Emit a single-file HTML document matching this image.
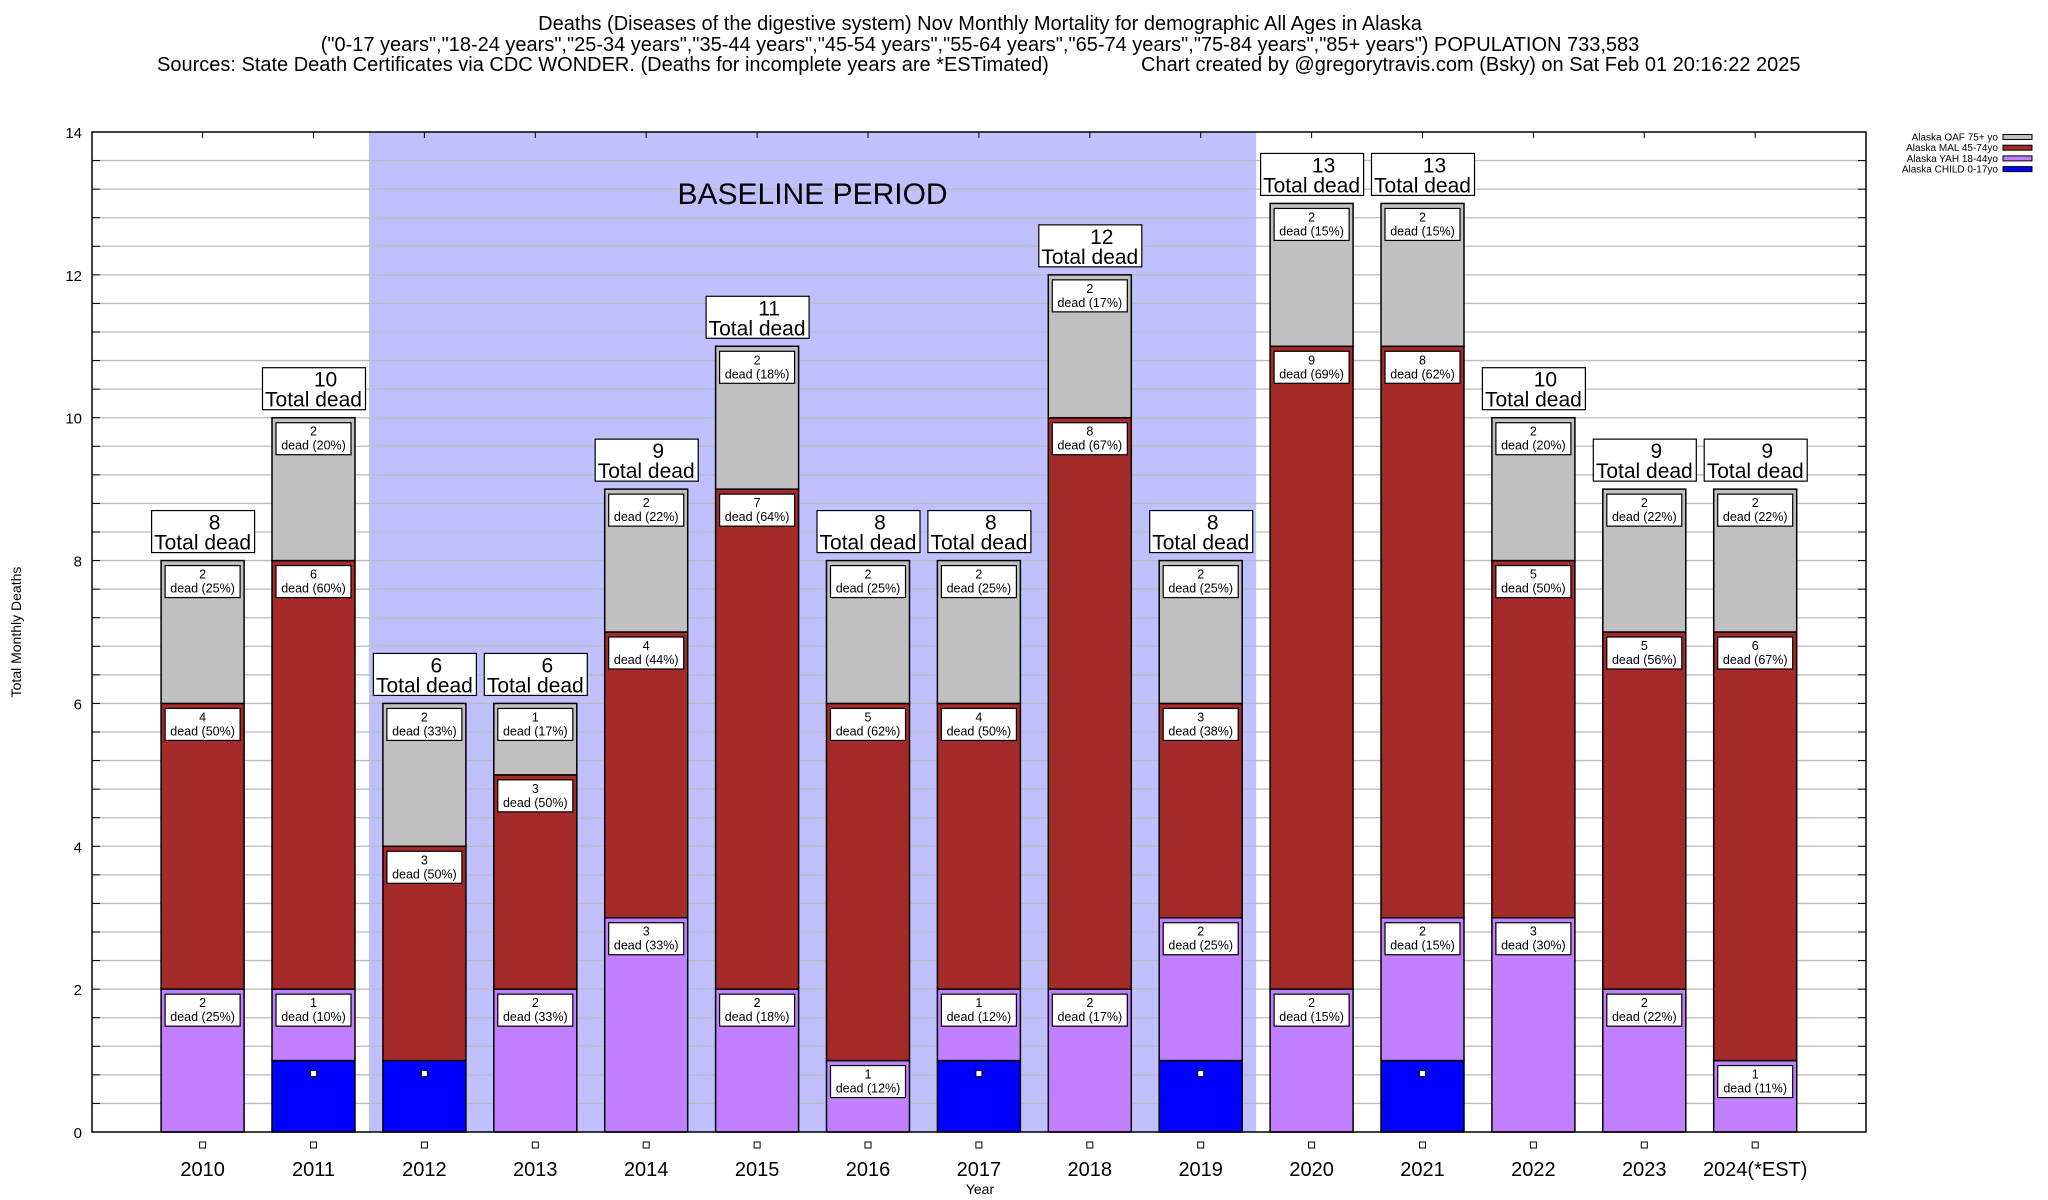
<!DOCTYPE html>
<html><head><meta charset="utf-8">
<style>
body{margin:0;background:#fff;}
svg{display:block;font-family:"Liberation Sans",sans-serif;}
</style></head>
<body>
<svg id="chart" width="2048" height="1200" xmlns="http://www.w3.org/2000/svg">
<text x="980" y="30" font-size="20" text-anchor="middle">Deaths (Diseases of the digestive system) Nov Monthly Mortality for demographic All Ages in Alaska</text>
<text x="980" y="51" font-size="20" text-anchor="middle">("0-17 years","18-24 years","25-34 years","35-44 years","45-54 years","55-64 years","65-74 years","75-84 years","85+ years") POPULATION 733,583</text>
<text x="157" y="71" font-size="20">Sources: State Death Certificates via CDC WONDER. (Deaths for incomplete years are *ESTimated)</text>
<text x="1141" y="71" font-size="20">Chart created by @gregorytravis.com (Bsky) on Sat Feb 01 20:16:22 2025</text>
<g id="plot"></g>
</svg>
<script>
const years = ["2010","2011","2012","2013","2014","2015","2016","2017","2018","2019","2020","2021","2022","2023","2024(*EST)"];
const child = [0,1,1,0,0,0,0,1,0,1,0,1,0,0,0];
const yah   = [2,1,0,2,3,2,1,1,2,2,2,2,3,2,1];
const mal   = [4,6,3,3,4,7,5,4,8,3,9,8,5,5,6];
const oaf   = [2,2,2,1,2,2,2,2,2,2,2,2,2,2,2];
const yTicks = [0,2,4,6,8,10,12,14];
const baselineStart = 2, baselineEnd = 9;

const NS="http://www.w3.org/2000/svg";
const g=document.getElementById('plot');
const L=92,R=1866,T=132,B=1132,YMAX=14;
const x0=202.6, step=110.9, bw=83;
const xc=i=>x0+i*step;
const y=v=>B-(v/YMAX)*(B-T);
function el(tag,attrs,parent){const e=document.createElementNS(NS,tag);for(const k in attrs)e.setAttribute(k,attrs[k]);(parent||g).appendChild(e);return e;}
function pct(v,t){const r=v/t*100;const f=Math.floor(r);const d=r-f;if(Math.abs(d-0.5)<1e-9)return f%2===0?f:f+1;return Math.round(r);}

let e=el('rect',{x:xc(baselineStart)-step/2,y:T,width:(baselineEnd-baselineStart+1)*step,height:B-T,fill:'#c0c0ff'});


for(let v=0.4;v<YMAX-0.01;v+=0.4){
  e=el('line',{x1:L,x2:R,y1:y(v),y2:y(v),stroke:'#bbb','stroke-width':1.3});
  
  
  el('line',{x1:L,x2:L+8,y1:y(v),y2:y(v),stroke:'#000'});
  el('line',{x1:R-8,x2:R,y1:y(v),y2:y(v),stroke:'#000'});
}
e=el('text',{x:(xc(baselineStart)+xc(baselineEnd))/2,y:204,'font-size':30,'text-anchor':'middle'});
e.textContent='BASELINE PERIOD';



const series=[{d:child,c:'#0000ff',n:'child'},{d:yah,c:'#c080ff',n:'yah'},{d:mal,c:'#a52a2a',n:'mal'},{d:oaf,c:'#c0c0c0',n:'oaf'}];
years.forEach((yr,i)=>{
  const tot=child[i]+yah[i]+mal[i]+oaf[i];
  let base=0;
  series.forEach((s,si)=>{
    const v=s.d[i]; if(!v) return;
    const r=el('rect',{x:xc(i)-bw/2,y:y(base+v),width:bw,height:y(base)-y(base+v),fill:s.c,stroke:'#000','stroke-width':1.5});
    
    
    if(si===0){
      const m=el('rect',{x:xc(i)-3,y:y(base+v)+10,width:6,height:6,fill:'#fff',stroke:'#000'});
      
      
    } else {
      const top=y(base+v);
      const bx=el('rect',{x:xc(i)-37.5,y:top+5,width:75,height:32,fill:'#fff',stroke:'#000','stroke-width':1.2});
      
      
      const t1=el('text',{x:xc(i),y:top+18,'font-size':12.5,'text-anchor':'middle'});t1.textContent=v;
      
      
      const t2=el('text',{x:xc(i),y:top+32,'font-size':12.5,'text-anchor':'middle'});t2.textContent='dead ('+pct(v,tot)+'%)';
      
      
    }
    base+=v;
  });
  const ty=y(tot);
  const tb=el('rect',{x:xc(i)-51,y:ty-50,width:103,height:42,fill:'#fff',stroke:'#000','stroke-width':1.2});
  
  
  let t=el('text',{x:xc(i)+12,y:ty-31,'font-size':21,'text-anchor':'middle'});t.textContent=tot;
  
  
  t=el('text',{x:xc(i),y:ty-11,'font-size':21,'text-anchor':'middle'});t.textContent='Total dead';
  
  
  el('line',{x1:xc(i),x2:xc(i),y1:T,y2:T+6,stroke:'#000'});
  const mk=el('rect',{x:xc(i)-3,y:1142,width:6,height:6,fill:'#fff',stroke:'#000'});
  
  
  t=el('text',{x:xc(i),y:1176,'font-size':20,'text-anchor':'middle'});t.textContent=yr;
  
  
});
e=el('rect',{x:L,y:T,width:R-L,height:B-T,fill:'none',stroke:'#000','stroke-width':1.5});


yTicks.forEach(v=>{
  const t=el('text',{x:82,y:y(v)+6,'font-size':15,'text-anchor':'end'});t.textContent=v;
  
  
});
e=el('text',{x:980,y:1194,'font-size':14,'text-anchor':'middle'});e.textContent='Year';


e=el('text',{x:0,y:0,'font-size':14,'text-anchor':'middle',transform:'translate(21,632) rotate(-90)'});e.textContent='Total Monthly Deaths';


const legNames=['Alaska OAF 75+ yo','Alaska MAL 45-74yo','Alaska YAH 18-44yo','Alaska CHILD 0-17yo'];
const legCols=['#c0c0c0','#a52a2a','#c080ff','#0000ff'];
legNames.forEach((n,k)=>{
  const yy=137+k*10.7;
  const t=el('text',{x:1998,y:yy+3.5,'font-size':10,'text-anchor':'end'});t.textContent=n;
  
  
  const r=el('rect',{x:2003,y:yy-2.5,width:29,height:5,fill:legCols[k],stroke:'#000'});
  
  
});
</script>
</body></html>
